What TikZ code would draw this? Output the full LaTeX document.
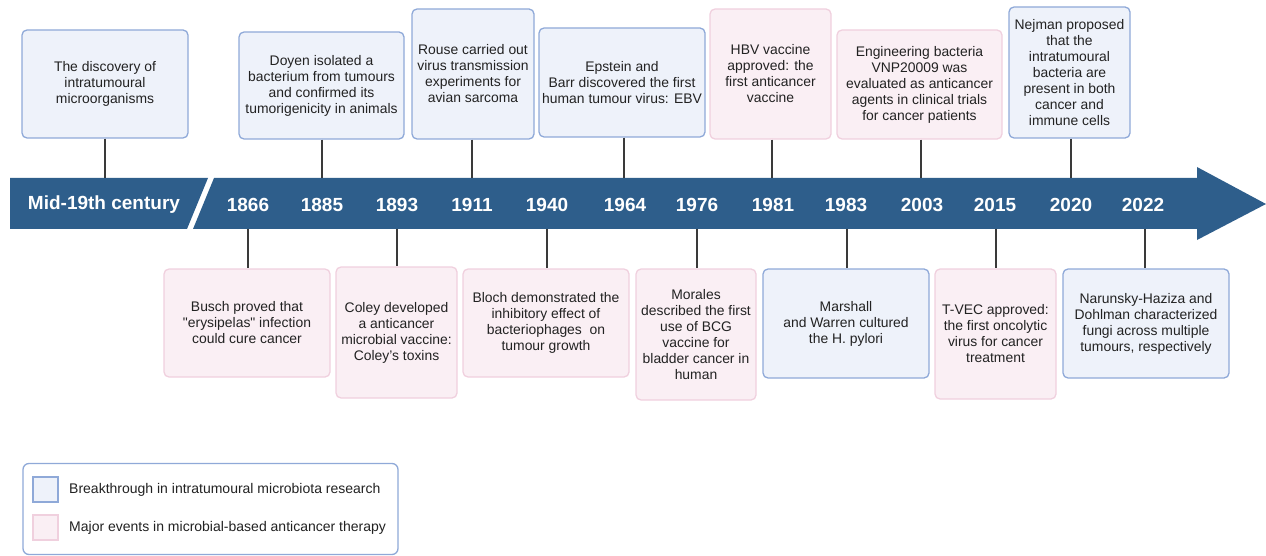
\documentclass[tikz,border=0pt]{standalone}
\usepackage{fontspec}
\setmainfont{Liberation Sans}[Ligatures=TeXOff]
\definecolor{banner}{HTML}{2E5E8B}
\definecolor{bluefill}{HTML}{EEF2FA}
\definecolor{blueline}{HTML}{8FA9D8}
\definecolor{pinkfill}{HTML}{FAEFF4}
\definecolor{pinkline}{HTML}{F0D0DE}
\definecolor{txt}{HTML}{222222}
\definecolor{conncol}{HTML}{3A3A3A}
\tikzset{
  evbox/.style={rounded corners=5pt, line width=1.3pt, inner sep=0pt, align=center,
    text=txt, font=\fontsize{13.9}{16}\selectfont},
  bluebox/.style={evbox, draw=blueline, fill=bluefill},
  pinkbox/.style={evbox, draw=pinkline, fill=pinkfill},
  yearlbl/.style={text=white, font=\fontsize{19}{22}\selectfont\bfseries, anchor=base, inner sep=0pt},
  conn/.style={draw=conncol, line width=1.5pt},
  legtxt/.style={text=txt, font=\fontsize{14}{16}\selectfont, anchor=west, inner sep=0pt},
}
\begin{document}
\begin{tikzpicture}[x=1pt, y=-1pt]
\useasboundingbox (0,0) rectangle (1266,556);
% banner
\fill[banner] (10,178) -- (208,178) -- (187,229) -- (10,229) -- cycle;
\fill[banner] (214,178) -- (1197,178) -- (1197,167) -- (1266,204) -- (1197,240) -- (1197,229) -- (193,229) -- cycle;
% year labels
\node[yearlbl] (ymid) at (104,210) {Mid-19th century};
\foreach \yr/\xx in {1866/248,1885/322,1893/397,1911/472,1940/547,1964/625,1976/697,1981/773,1983/846,2003/922,2015/995,2020/1071,2022/1143}{
  \node[yearlbl] (y\yr) at (\xx,211.5) {\yr};
}
% banner edge coordinates
\foreach \nm/\xx in {mid/105,1885/322,1911/472,1964/624,1981/772,2003/921,2020/1071}{
  \coordinate (a\nm) at (\xx,178);
}
\foreach \nm/\xx in {1866/248,1893/397,1940/547,1976/697,1983/847,2015/996,2022/1145}{
  \coordinate (u\nm) at (\xx,229);
}
% top boxes
\node[bluebox, minimum width=166pt, minimum height=108pt] (t1) at (105,84) {The discovery of\\intratumoural\\microorganisms};
\node[bluebox, minimum width=165pt, minimum height=107pt] (t2) at (321.5,85.5) {Doyen isolated a\\bacterium from tumours\\and confirmed its\\tumorigenicity in animals};
\node[bluebox, minimum width=122pt, minimum height=130pt] (t3) at (473,74) {Rouse carried out\\virus transmission\\experiments for\\avian sarcoma};
\node[bluebox, minimum width=166pt, minimum height=109pt] (t4) at (622,82.5) {Epstein and\\Barr discovered the first\\human tumour virus: EBV};
\node[pinkbox, minimum width=121pt, minimum height=130pt] (t5) at (770.5,74) {HBV vaccine\\approved: the\\first anticancer\\vaccine};
\node[pinkbox, minimum width=165pt, minimum height=109pt] (t6) at (919.5,84.5) {Engineering bacteria\\VNP20009 was\\evaluated as anticancer\\agents in clinical trials\\for cancer patients};
\node[bluebox, minimum width=121pt, minimum height=131pt] (t7) at (1069.5,72.5) {Nejman proposed\\that the\\intratumoural\\bacteria are\\present in both\\cancer and\\immune cells};
% bottom boxes
\node[pinkbox, minimum width=166pt, minimum height=108pt] (b1) at (247,323) {Busch proved that\\"erysipelas" infection\\could cure cancer};
\node[pinkbox, minimum width=121pt, minimum height=131pt] (b2) at (396.5,332.5) {Coley developed\\a anticancer\\microbial vaccine:\\Coley’s toxins};
\node[pinkbox, minimum width=166pt, minimum height=108pt] (b3) at (546,323) {Bloch demonstrated the\\inhibitory effect of\\bacteriophages\ \ on\\tumour growth};
\node[pinkbox, minimum width=120pt, minimum height=131pt] (b4) at (696,334.5) {Morales\\described the first\\use of BCG\\vaccine for\\bladder cancer in\\human};
\node[bluebox, minimum width=166pt, minimum height=109pt] (b5) at (846,323.5) {Marshall\\and Warren cultured\\the H. pylori};
\node[pinkbox, minimum width=121pt, minimum height=130pt] (b6) at (995.5,334) {T-VEC approved:\\the first oncolytic\\virus for cancer\\treatment};
\node[bluebox, minimum width=166pt, minimum height=109pt] (b7) at (1146,323.5) {Narunsky-Haziza and\\Dohlman characterized\\fungi across multiple\\tumours, respectively};
% connectors
\draw[conn] (t1.south -| amid) -- (amid);
\draw[conn] (t2.south -| a1885) -- (a1885);
\draw[conn] (t3.south -| a1911) -- (a1911);
\draw[conn] (t4.south -| a1964) -- (a1964);
\draw[conn] (t5.south -| a1981) -- (a1981);
\draw[conn] (t6.south -| a2003) -- (a2003);
\draw[conn] (t7.south -| a2020) -- (a2020);
\draw[conn] (u1866) -- (b1.north -| u1866);
\draw[conn] (u1893) -- (b2.north -| u1893);
\draw[conn] (u1940) -- (b3.north -| u1940);
\draw[conn] (u1976) -- (b4.north -| u1976);
\draw[conn] (u1983) -- (b5.north -| u1983);
\draw[conn] (u2015) -- (b6.north -| u2015);
\draw[conn] (u2022) -- (b7.north -| u2022);
% legend
\node[draw=blueline, fill=white, rounded corners=6pt, line width=1.3pt, minimum width=375pt, minimum height=91pt, inner sep=0pt] (legend) at (210.5,509) {};
\node[draw=blueline, fill=bluefill, line width=1.3pt, minimum width=25pt, minimum height=25pt, inner sep=0pt] (lb) at (45.5,489.5) {};
\node[draw=pinkline, fill=pinkfill, line width=1.3pt, minimum width=25pt, minimum height=25pt, inner sep=0pt] (lp) at (45.5,527.5) {};
\node[legtxt] (lbt) at (69,489.5) {Breakthrough in intratumoural microbiota research};
\node[legtxt] (lpt) at (69,527.5) {Major events in microbial-based anticancer therapy};
\end{tikzpicture}
\end{document}
